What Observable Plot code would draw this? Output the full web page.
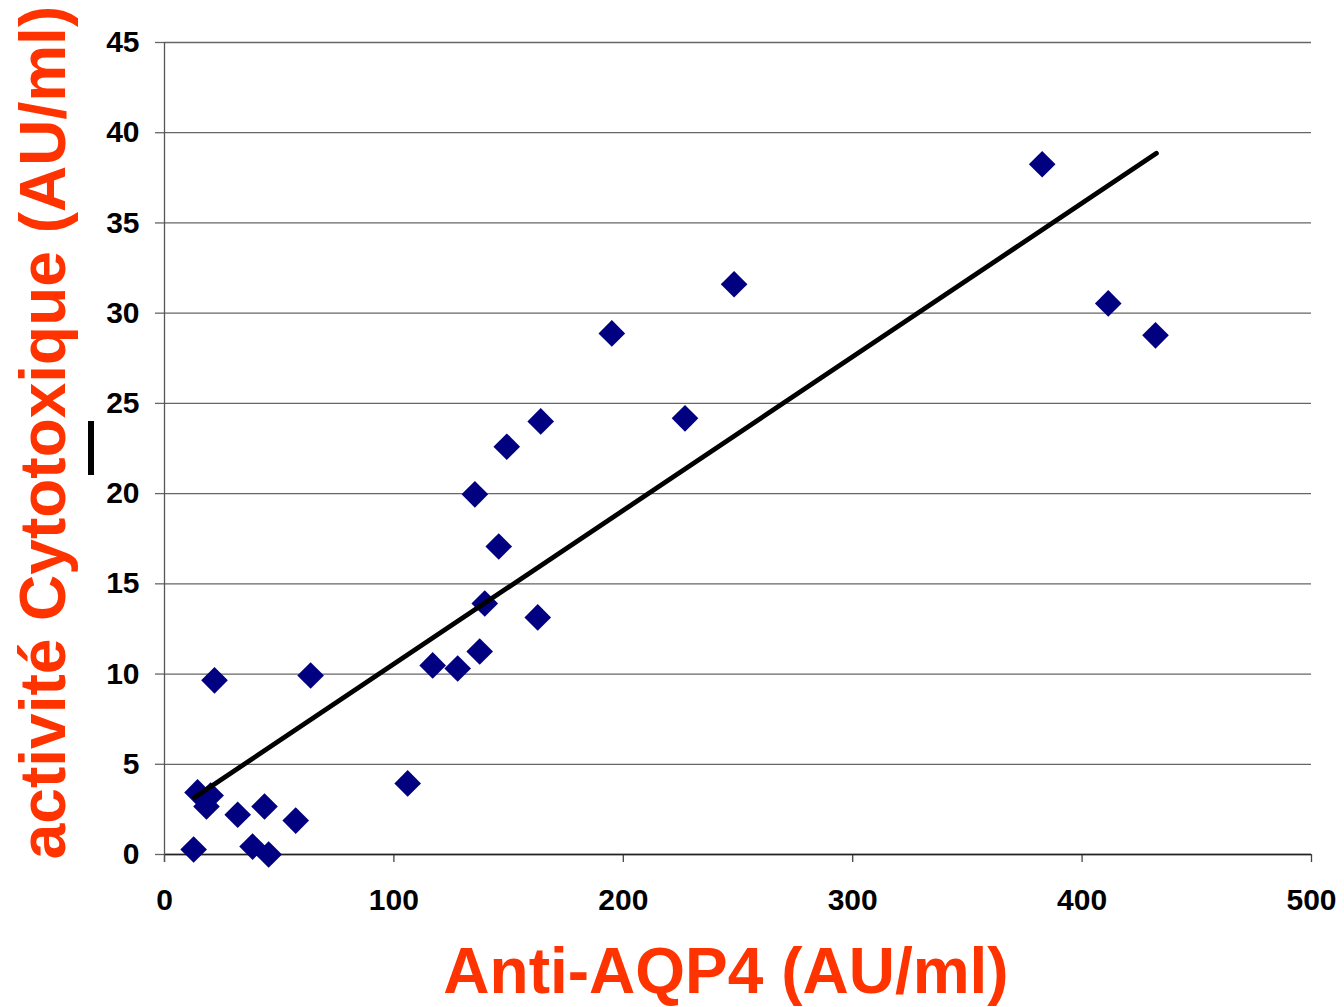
<!DOCTYPE html>
<html>
<head>
<meta charset="utf-8">
<script src="https://cdn.jsdelivr.net/npm/d3@7"></script>
<script src="https://cdn.jsdelivr.net/npm/@observablehq/plot@0.6"></script>
<style>
  html, body { margin: 0; padding: 0; background: #fff; }
  #wrap { position: relative; width: 1344px; height: 1007px; }
  #bar { position: absolute; left: 88px; top: 421px; width: 6px; height: 54px; background: #000; }
</style>
</head>
<body>
<div id="wrap"><div id="bar"></div></div>
<script>
const antiAQP4 = [12.7, 14.4, 18.3, 20.1, 21.8, 31.9, 38.4, 43.6, 45.4, 57.2, 63.7, 106, 116.9, 127.8, 135.3, 137.4, 139.6, 145.7, 149.2, 162.7, 164, 195, 226.9, 248.3, 382.6, 411.4, 432];
const cytotox  = [0.28, 3.44, 2.66, 3.27, 9.65, 2.2, 0.44, 2.66, 0.0, 1.88, 9.92, 3.94, 10.48, 10.31, 19.96, 11.25, 13.91, 17.07, 22.6, 13.14, 24.0, 28.88, 24.17, 31.6, 38.25, 30.54, 28.77];
const trendX = [13.1, 432.4];
const trendY = [3.16, 38.86];
const xTicks = [0, 100, 200, 300, 400, 500];
const yTicks = [0, 5, 10, 15, 20, 25, 30, 35, 40, 45];
const xTitle = "Anti-AQP4 (AU/ml)";
const yTitle = "activité Cytotoxique (AU/ml)";

const points = antiAQP4.map((x, i) => ({x, y: cytotox[i]}));
const trend = trendX.map((x, i) => ({x, y: trendY[i]}));

const font = "'Liberation Sans', Arial, Helvetica, sans-serif";
const orange = "#FF3300";

const chart = Plot.plot({
  width: 1344,
  height: 1007,
  marginLeft: 164,
  marginRight: 33,
  marginTop: 42,
  marginBottom: 153,
  style: {fontFamily: font, background: "#fff", color: "#000"},
  x: {domain: [0, 500]},
  y: {domain: [0, 45]},
  marks: [
    Plot.gridY(yTicks, {stroke: "#666", strokeOpacity: 1, strokeWidth: 1.3}),
    Plot.axisY(yTicks, {tickSize: 9, tickPadding: 16, fontSize: 30, fontWeight: "bold", stroke: "#666", strokeWidth: 1.3, label: null}),
    Plot.axisX(xTicks, {tickSize: 8, tickPadding: 26, fontSize: 30, fontWeight: "bold", stroke: "#444", strokeWidth: 1.3, label: null}),
    Plot.ruleY([0], {stroke: "#222", strokeWidth: 1.5}),
    Plot.ruleX([0], {y1: 45, y2: 0, stroke: "#555", strokeWidth: 1.3, insetBottom: -8}),
    Plot.dot(points, {x: "x", y: "y", symbol: "diamond2", r: 12, fill: "#000080", stroke: "none"}),
    Plot.line(trend, {x: "x", y: "y", stroke: "#000", strokeWidth: 4.8, strokeLinecap: "round"}),
    Plot.text([xTitle], {frameAnchor: "bottom", dx: -12, dy: 118, lineAnchor: "middle", textAnchor: "middle", fontSize: 64, fontWeight: "bold", fill: orange}),
    Plot.text([yTitle], {frameAnchor: "left", dx: -120, dy: -16, rotate: -90, lineAnchor: "middle", textAnchor: "middle", fontSize: 64, fontWeight: "bold", fill: orange})
  ]
});
document.getElementById("wrap").prepend(chart);
</script>
</body>
</html>
